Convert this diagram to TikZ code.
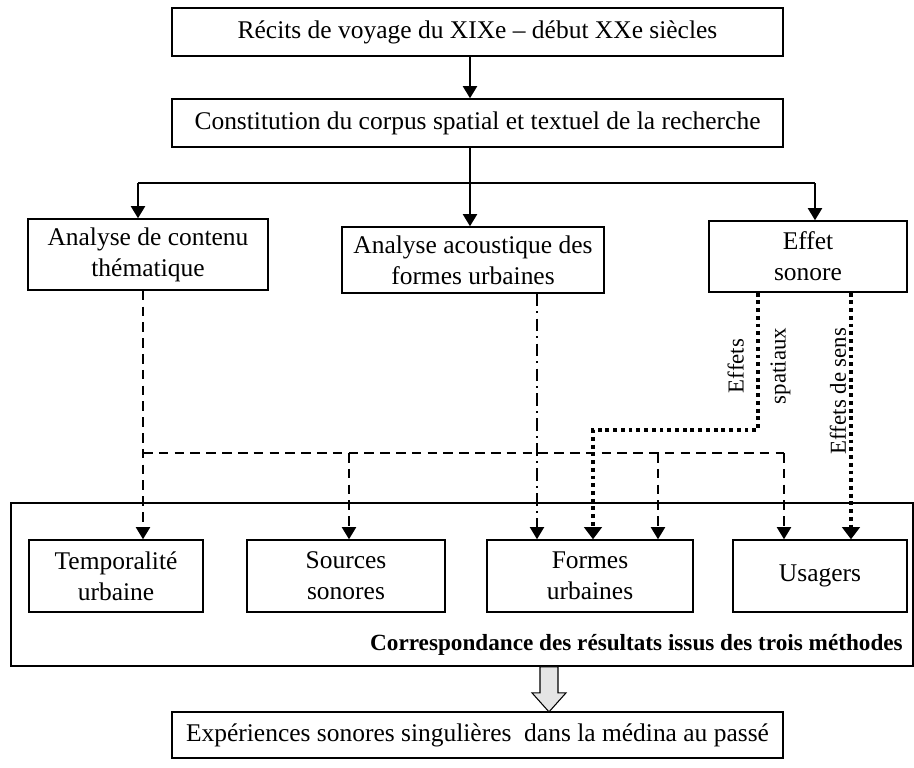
\documentclass[tikz,border=0pt]{standalone}
\usepackage{fontspec}
\setmainfont{Liberation Serif}
\usetikzlibrary{arrows.meta, calc}

\tikzset{
  boite/.style={draw, line width=0.8pt, align=center, inner sep=2pt,
    font=\fontsize{14.5}{17.5}\selectfont},
  fleche/.style={line width=1.4pt, -{Triangle[width=8pt,length=7pt]}},
  tirets/.style={fleche, dash pattern=on 5.5pt off 3.5pt},
  tiretpoint/.style={fleche, line width=1.2pt, dash pattern=on 7pt off 3pt on 1.2pt off 3pt},
  pointille/.style={line width=2.6pt, dash pattern=on 2.2pt off 2.2pt,
    -{Triangle[width=10pt,length=7pt]}},
  etiquette/.style={rotate=90, align=center, font=\fontsize{13}{24}\selectfont}
}

\begin{document}
\begin{tikzpicture}[x=0.02cm, y=-0.02cm]
  \useasboundingbox (0,0) rectangle (914,768);

  % Draw the two top boxes
  \node[boite, minimum width=12.22cm, minimum height=0.96cm] (recits) at (477.5,32)
    {R\'ecits de voyage du XIXe -- d\'ebut XXe si\`ecles};
  \node[boite, minimum width=12.22cm, minimum height=0.96cm] (corpus) at (477.5,123)
    {Constitution du corpus spatial et textuel de la recherche};

  % Draw the three methods
  \node[boite, minimum width=4.8cm, minimum height=1.42cm] (contenu) at (148,254.5)
    {Analyse de contenu\\th\'ematique};
  \node[boite, minimum width=5.24cm, minimum height=1.32cm] (acoust) at (473,260)
    {Analyse acoustique des\\formes urbaines};
  \node[boite, minimum width=3.96cm, minimum height=1.42cm] (effet) at (808,256.5)
    {Effet\\sonore};

  % Draw the frame of results
  \node[draw, line width=1pt, minimum width=18.04cm, minimum height=3.26cm] (cadre) at (462,584.5) {};
  \node[anchor=base east, font=\fontsize{13.2}{16}\selectfont\bfseries] (bilan) at (909,650)
    {Correspondance des r\'esultats issus des trois m\'ethodes};

  % Draw the four results
  \node[boite, minimum width=3.48cm, minimum height=1.44cm] (temp) at (116,576)
    {Temporalit\'e\\urbaine};
  \node[boite, minimum width=3.96cm, minimum height=1.44cm] (sources) at (346,576)
    {Sources\\sonores};
  \node[boite, minimum width=4.12cm, minimum height=1.44cm] (formes) at (590,576)
    {Formes\\urbaines};
  \node[boite, minimum width=3.48cm, minimum height=1.44cm] (usagers) at (820,576)
    {Usagers};

  % Draw the last box
  \node[boite, minimum width=12.22cm, minimum height=0.92cm] (experiences) at (477.5,735)
    {Exp\'eriences sonores singuli\`eres\ \ dans la m\'edina au pass\'e};

  % Solid arrows from the corpus
  \coordinate (split) at (470,183);
  \coordinate (gauche) at (138,183);
  \coordinate (droite) at (815,183);
  \draw[fleche] (recits.south -| split) -- (corpus.north -| split);
  \draw[line width=1.4pt] (corpus.south -| split) -- (split);
  \draw[line width=1.4pt] (gauche) -- (droite);
  \draw[fleche] (gauche) -- (gauche |- contenu.north);
  \draw[fleche] (split) -- (split |- acoust.north);
  \draw[fleche] (droite) -- (droite |- effet.north);

  % Dashed lines from the content analysis
  \coordinate (bus) at (143,453);
  \coordinate (bus2) at (349,453);
  \coordinate (bus3) at (658,453);
  \coordinate (bus4) at (784,453);
  \draw[tirets] (bus |- contenu.south) -- (bus |- temp.north);
  \draw[line width=1.4pt, dash pattern=on 5.5pt off 3.5pt] (bus) -- (bus4);
  \draw[tirets] (bus2) -- (bus2 |- sources.north);
  \draw[tirets] (bus3) -- (bus3 |- formes.north);
  \draw[tirets] (bus4) -- (bus4 |- usagers.north);

  % Dash-dot line from the acoustic analysis
  \coordinate (acx) at (537,0);
  \draw[tiretpoint] (acx |- acoust.south) -- (acx |- formes.north);

  % Dotted lines from the sound effect
  \coordinate (coin) at (758,430);
  \coordinate (coin2) at (593,430);
  \coordinate (sens) at (851,0);
  \draw[pointille] (coin |- effet.south) -- (coin) -- (coin2) -- (coin2 |- formes.north);
  \draw[pointille] (sens |- effet.south) -- (sens |- usagers.north);
  \node[etiquette] (spat) at (759,366) {Effets\\spatiaux};
  \node[etiquette] (sensl) at (838,391) {Effets de sens};

  % Grey block arrow
  \draw[fill=gray!20, line width=0.6pt]
    ($(cadre.south)+(78,0)$) -- ++(18,0) -- ++(0,26) -- ++(8,0) -- ++(-17,19)
    -- ++(-17,-19) -- ++(8,0) -- cycle;
\end{tikzpicture}
\end{document}
